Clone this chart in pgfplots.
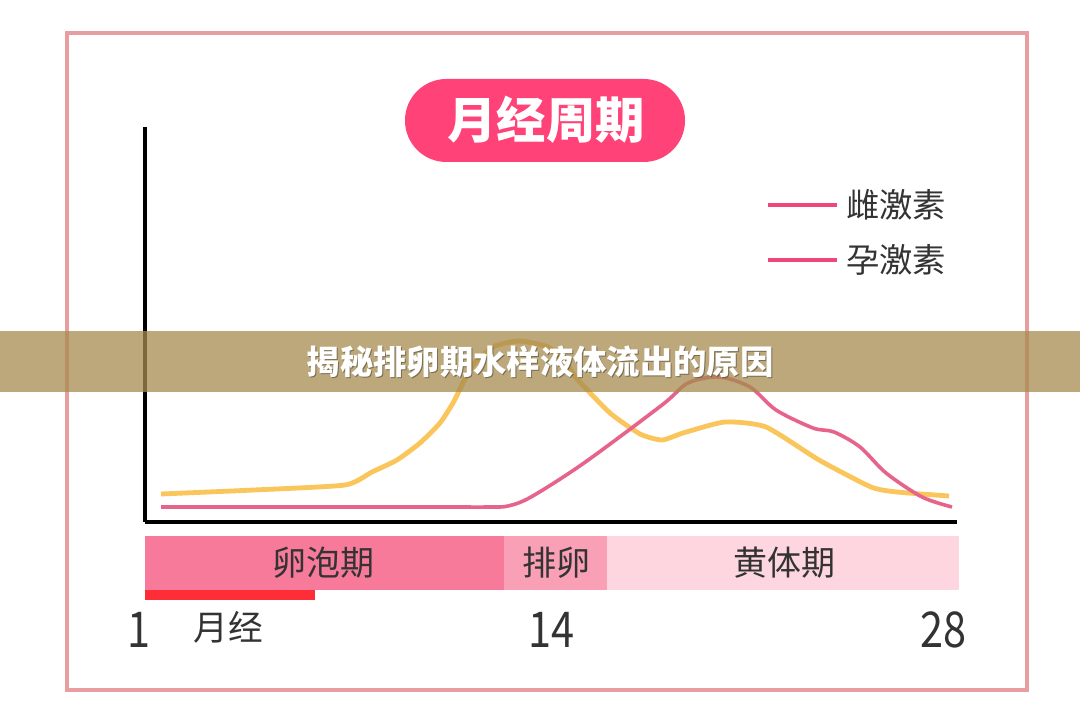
\documentclass[border=0pt]{standalone}
\usepackage{fontspec}
\setmainfont{Noto Sans CJK SC}
\newfontfamily\numfont{Noto Sans CJK SC}[FakeStretch=0.84]
\usepackage{pgfplots}
\pgfplotsset{compat=1.18}
\definecolor{bordercol}{RGB}{232,158,158}
\definecolor{titlepink}{RGB}{255,66,120}
\definecolor{legpink}{RGB}{240,70,120}
\definecolor{yellowc}{RGB}{250,197,90}
\definecolor{pinkc}{RGB}{230,100,140}
\definecolor{ph1}{RGB}{247,122,154}
\definecolor{ph2}{RGB}{249,160,182}
\definecolor{ph3}{RGB}{253,214,224}
\definecolor{redbar}{RGB}{255,45,55}
\definecolor{bannercol}{RGB}{166,139,78}
\definecolor{textgray}{RGB}{51,51,51}
\begin{document}
\begin{tikzpicture}[x=0.75pt,y=0.75pt]
\path[fill=white] (0,0) rectangle (1080,724);
\draw[bordercol, line width=3pt] (67,691) rectangle (1027,34);
% title pill
\fill[titlepink, rounded corners=31pt] (405,645) rectangle (685,562);
\node[white, font=\fontsize{37}{40}\selectfont\bfseries] at (546,604) {月经周期};
% legend
\draw[legpink, line width=3pt] (768,519) -- (837,519);
\draw[legpink, line width=3pt] (768,464) -- (837,464);
\node[textgray, anchor=west, inner sep=0pt, font=\fontsize{25}{28}\selectfont] at (846,519) {雌激素};
\node[textgray, anchor=west, inner sep=0pt, font=\fontsize{25}{28}\selectfont] at (846,464) {孕激素};
% chart
\begin{axis}[at={(108.75pt,151.5pt)}, anchor=south west, scale only axis,
  width=609pt, height=296.25pt, xmin=145, xmax=957, ymin=0, ymax=395,
  axis x line=bottom, axis y line=left,
  axis line style={-, line width=2.4pt, black},
  xtick=\empty, ytick=\empty, clip=false]
\addplot[yellowc, line width=3.6pt, smooth, tension=0.35] coordinates {
(161,28) (254,32) (345,37) (372,50) (397,62) (420,79) (440,99) (453,119) (463,139)
(475,160) (495,176) (520,181) (548,175) (565,160)
(578,142) (610,109) (640,88) (662,82) (683,89) (725,100) (766,95) (819,62)
(871,35) (897,30) (949,26)};
\addplot[pinkc, line width=2.7pt, smooth, tension=0.5] coordinates {
(161,15) (300,15) (440,15) (490,15) (508,16) (531,25) (584,59) (662,117) (688,139) (719,145) (750,135)
(776,112) (813,94) (834,90) (860,75) (886,49) (922,25) (952,15)};
\end{axis}
% banner
\fill[bannercol, opacity=0.75] (0,393) rectangle (1080,332);
\node[black, opacity=0.35, font=\fontsize{25}{28}\selectfont\bfseries] at (541,361) {揭秘排卵期水样液体流出的原因};
\node[white, font=\fontsize{25}{28}\selectfont\bfseries] at (540,362) {揭秘排卵期水样液体流出的原因};
% phase bar
\fill[ph1] (145,188) rectangle (504,134);
\fill[ph2] (504,188) rectangle (607,134);
\fill[ph3] (607,188) rectangle (959,134);
\fill[redbar] (145,134) rectangle (315,124);
\node[textgray, font=\fontsize{25.5}{28}\selectfont] at (323,161) {卵泡期};
\node[textgray, font=\fontsize{25.5}{28}\selectfont] at (556,161) {排卵};
\node[textgray, font=\fontsize{25.5}{28}\selectfont] at (784,161) {黄体期};
\node[textgray, font=\fontsize{37}{40}\selectfont\numfont] at (139,94) {1};
\node[textgray, font=\fontsize{37}{40}\selectfont\numfont] at (551,94) {14};
\node[textgray, font=\fontsize{37}{40}\selectfont\numfont] at (943,94) {28};
\node[textgray, font=\fontsize{26}{28}\selectfont] at (228,97) {月经};
\end{tikzpicture}
\end{document}
